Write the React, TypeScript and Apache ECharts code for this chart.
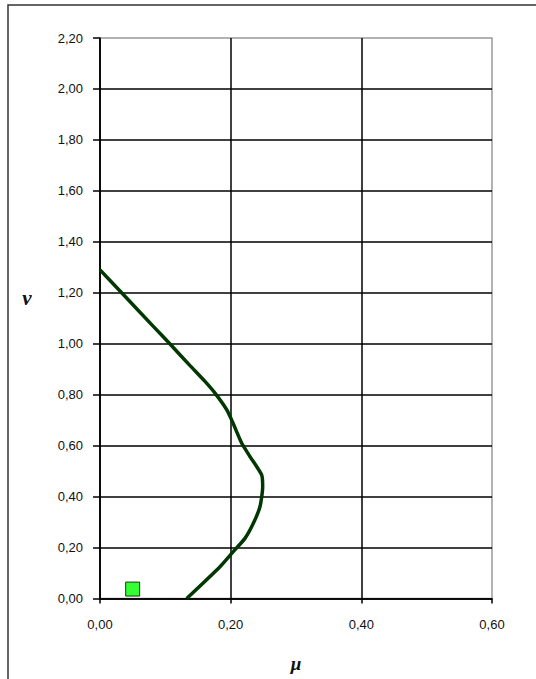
import React, { useEffect, useRef } from "react";
import * as echarts from "echarts";

const curveMu = [0.0, 0.0357, 0.0816, 0.1097, 0.1378, 0.1607, 0.176, 0.194, 0.2015, 0.2168, 0.2296, 0.2474, 0.249, 0.2449, 0.2347, 0.2219, 0.204, 0.1837, 0.1327];
const curveNu = [1.29, 1.193, 1.068, 0.992, 0.914, 0.852, 0.806, 0.741, 0.701, 0.61, 0.557, 0.485, 0.439, 0.361, 0.295, 0.236, 0.184, 0.125, 0.0];
const pointMu = [0.05];
const pointNu = [0.037];

const fmt = (v: number) => v.toFixed(2).replace(".", ",");

export default function App() {
  const ref = useRef<HTMLDivElement>(null);
  useEffect(() => {
    const chart = echarts.init(ref.current!, null, { renderer: "svg" });
    chart.setOption({
      animation: false,
      backgroundColor: "#fff",
      grid: { left: 100, top: 38, width: 392, height: 560.5, show: true, borderColor: "#999", borderWidth: 1.5, backgroundColor: "transparent" },
      xAxis: {
        type: "value", min: 0, max: 0.6, interval: 0.2,
        axisLine: { show: true, lineStyle: { color: "#000", width: 1.5 } },
        axisTick: { show: true, inside: false, length: 5, lineStyle: { color: "#000", width: 1.5 } },
        axisLabel: { formatter: fmt, margin: 19, fontFamily: "Liberation Sans, Arial", fontSize: 13, color: "#111" },
        splitLine: { show: true, showMaxLine: false, lineStyle: { color: "#000", width: 1.5 } },
        name: "μ", nameLocation: "middle", nameGap: 55,
        nameTextStyle: { fontFamily: "Liberation Serif", fontStyle: "italic", fontWeight: "bold", fontSize: 19, color: "#111" },
      },
      yAxis: {
        type: "value", min: 0, max: 2.2, interval: 0.2,
        axisLine: { show: true, lineStyle: { color: "#000", width: 1.5 } },
        axisTick: { show: true, inside: false, length: 7, lineStyle: { color: "#000", width: 1.5 } },
        axisLabel: { formatter: fmt, margin: 17, fontFamily: "Liberation Sans, Arial", fontSize: 13, color: "#111" },
        splitLine: { show: true, showMaxLine: false, lineStyle: { color: "#000", width: 1.5 } },
      },
      graphic: [
        { type: "rect", shape: { x: 8, y: 5, width: 700, height: 800 }, style: { fill: "none", stroke: "#333", lineWidth: 1.5 }, z: -10, silent: true },
        { type: "text", x: 27, y: 298, style: { text: "ν", font: "italic bold 21px 'Liberation Serif'", fill: "#111", align: "center", verticalAlign: "middle" } },
      ],
      series: [
        {
          type: "line",
          data: curveMu.map((m, i) => [m, curveNu[i]]),
          showSymbol: false,
          smooth: 0.2,
          lineStyle: { color: "#013801", width: 3.5 },
          z: 3,
        },
        {
          type: "scatter",
          data: pointMu.map((m, i) => [m, pointNu[i]]),
          symbol: "rect",
          symbolSize: 14,
          itemStyle: { color: "#00ff00", borderColor: "#000", borderWidth: 1 },
          z: 4,
        },
      ],
    });
    return () => chart.dispose();
  }, []);
  return <div ref={ref} style={{ width: 536, height: 679, position: "absolute", left: 0, top: 0 }} />;
}
